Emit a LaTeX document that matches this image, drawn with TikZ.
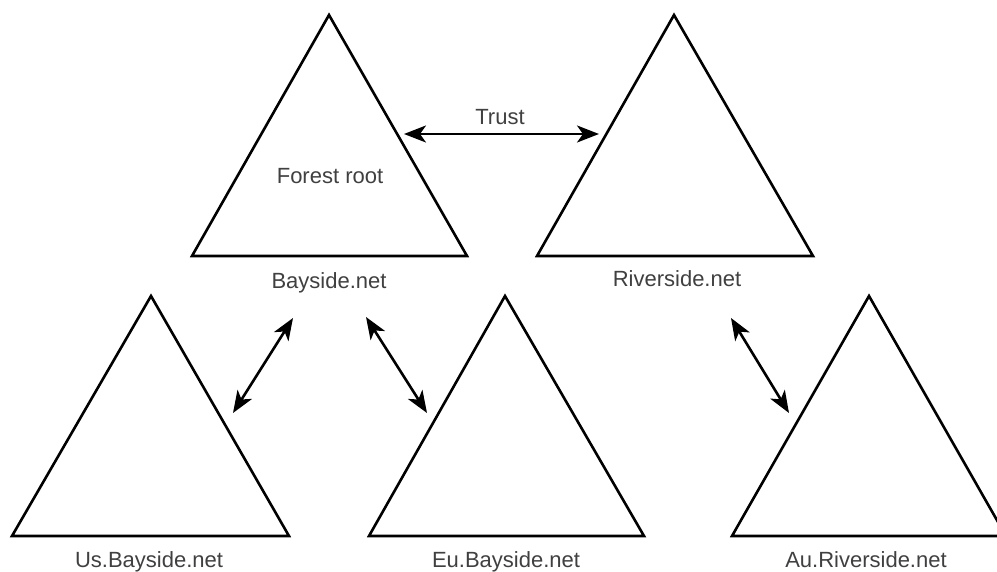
\documentclass[tikz,border=0pt]{standalone}
\usepackage{fontspec}
\setmainfont{Liberation Sans}
\usetikzlibrary{arrows.meta}
\begin{document}
\begin{tikzpicture}[x=1pt,y=-1pt,
  treeshape/.style={draw=black,line width=2.6pt,line join=miter},
  lbl/.style={anchor=base,text=black!75,font=\fontsize{22}{24}\selectfont,inner sep=0pt},
  tip/.tip={Stealth[length=22pt,width=17pt,inset=6pt]},
  link/.style={line width=2.6pt,tip-tip}]
  \useasboundingbox (0,0) rectangle (997,572);
  \clip (0,0) rectangle (997,572);
  \fill[white] (0,0) rectangle (997,572);

  % domain trees
  \draw[treeshape] (329,15) -- (467,256) -- (192,256) -- cycle;
  \draw[treeshape] (674,15) -- (813,256) -- (537,256) -- cycle;
  \draw[treeshape] (151,296) -- (289,536) -- (12,536) -- cycle;
  \draw[treeshape] (505,296) -- (644,536) -- (369,536) -- cycle;
  \draw[treeshape] (869,296) -- (1006,536) -- (732,536) -- cycle;

  % labels
  \node[lbl] (root) at (330,184) {Forest root};
  \node[lbl] (bay) at (329,289) {Bayside.net};
  \node[lbl] (river) at (677,287) {Riverside.net};
  \node[lbl] (us) at (149,567) {Us.Bayside.net};
  \node[lbl] (eu) at (506,567) {Eu.Bayside.net};
  \node[lbl] (au) at (866,567) {Au.Riverside.net};
  \node[lbl] (trust) at (500,125) {Trust};

  % trust link end points
  \coordinate (t1) at (404,134);
  \coordinate (t2) at (599,134);
  \coordinate (u1) at (293,318);
  \coordinate (u2) at (233,413);
  \coordinate (e1) at (366,317);
  \coordinate (e2) at (427,413);
  \coordinate (a1) at (731,318);
  \coordinate (a2) at (789,413);

  \draw[link] (t1) -- (t2);
  \draw[link] (u1) -- (u2);
  \draw[link] (e1) -- (e2);
  \draw[link] (a1) -- (a2);
\end{tikzpicture}
\end{document}
